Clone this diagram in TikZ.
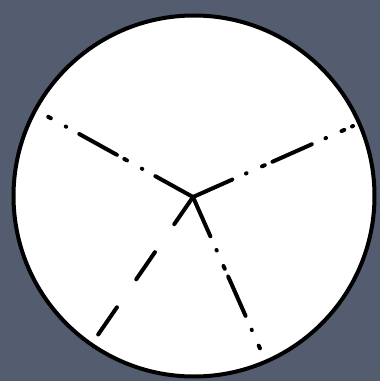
\documentclass[tikz,border=0pt]{standalone}
\usepackage{tikz}
\usetikzlibrary{calc}

\definecolor{slate}{RGB}{84,92,112}

\begin{document}
\begin{tikzpicture}[
  x=1pt, y=-1pt,
  disc/.style={circle, draw=black, fill=white, line width=4pt, inner sep=0pt, minimum size=361pt},
  spoke/.style={line width=4pt, line cap=round},
  dashdotdot/.style={spoke, dash pattern=on 43pt off 15pt on 0.5pt off 17pt on 3pt off 8.5pt},
  longdash/.style={spoke, dash pattern=on 33pt off 34pt}
]
\fill[slate] (0,0) rectangle (380,381);
\useasboundingbox (0,0) rectangle (380,381);
\node[disc] (disc) at (194,196) {};
\coordinate (hub) at (193,197);
\coordinate (nw) at (45,115);
\coordinate (ne) at (353,126);
\coordinate (sw) at (93,342);
\coordinate (se) at (262,353);
\draw[dashdotdot] (hub) -- (nw);
\draw[dashdotdot] (hub) -- (ne);
\draw[dashdotdot] (hub) -- (se);
\draw[longdash] (hub) -- (sw);
\end{tikzpicture}
\end{document}
